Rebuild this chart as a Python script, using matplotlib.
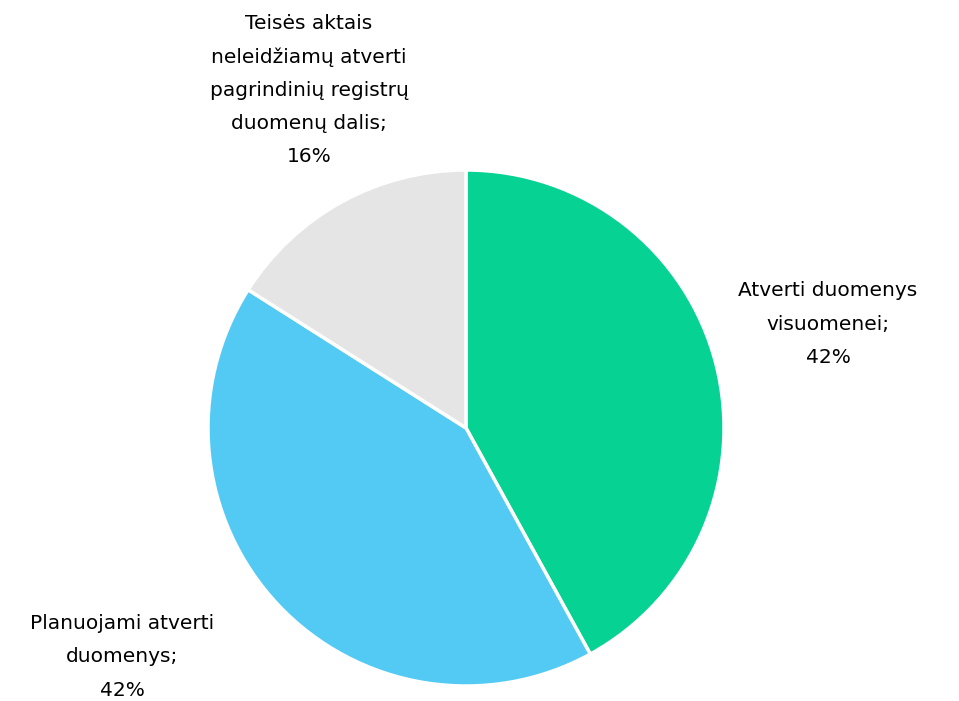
import matplotlib

matplotlib.use('Agg')
import matplotlib.pyplot as plt

# duomenys
labels = ['Atverti duomenys\nvisuomenei;', 'Planuojami atverti\nduomenys;',
          'Teisės aktais\nneleidžiamų atverti\npagrindinių registrų\nduomenų dalis;']
values = [42, 42, 16]
colors = ['#06D293', '#52CAF3', '#E5E5E5']

# label centres in pixels (x, y from top)
label_pos = [(828, 324), (122, 657), (309, 90)]

plt.rcParams['font.family'] = ['DejaVu Sans']

fig = plt.figure(figsize=(9.59, 7.01), dpi=100)
ax = fig.add_axes([0, 0, 1, 1])

W, H = 959, 701
cx, cy, r = 466, 428, 258

ax.pie(values, colors=colors, startangle=90, counterclock=False,
       center=(cx, H - cy), radius=r,
       wedgeprops={'edgecolor': 'white', 'linewidth': 2.5})

for lab, v, (x, y) in zip(labels, values, label_pos):
    ax.text(x, H - y, f'{lab}\n{v}%', ha='center', va='center',
            fontsize=14.5, linespacing=1.95, color='black')

ax.set_xlim(0, W)
ax.set_ylim(0, H)
ax.set_aspect('equal')
ax.axis('off')

fig.savefig('out.png', dpi=100)
